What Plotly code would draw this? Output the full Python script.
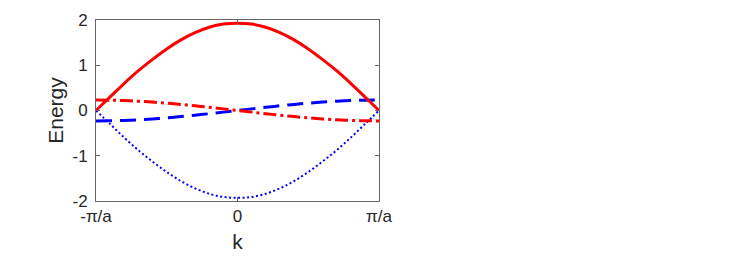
import plotly.graph_objects as go

# k in units of pi/a
k = [-1.0, -0.9, -0.8, -0.7, -0.6, -0.5, -0.4, -0.3, -0.2, -0.1, 0.0,
     0.1, 0.2, 0.3, 0.4, 0.5, 0.6, 0.7, 0.8, 0.9, 1.0]

band_upper = [0.00, 0.30, 0.60, 0.88, 1.13, 1.36, 1.56, 1.72, 1.84, 1.91, 1.93,
              1.91, 1.84, 1.72, 1.56, 1.36, 1.13, 0.88, 0.60, 0.30, 0.00]
band_lower = [-0.00, -0.30, -0.60, -0.88, -1.13, -1.36, -1.56, -1.72, -1.84, -1.91, -1.93,
              -1.91, -1.84, -1.72, -1.56, -1.36, -1.13, -0.88, -0.60, -0.30, -0.00]
band_mid_blue = [-0.23, -0.227, -0.219, -0.205, -0.186, -0.163, -0.135, -0.104, -0.071, -0.036, 0.0,
                 0.036, 0.071, 0.104, 0.135, 0.163, 0.186, 0.205, 0.219, 0.227, 0.23]
band_mid_red = [0.23, 0.227, 0.219, 0.205, 0.186, 0.163, 0.135, 0.104, 0.071, 0.036, 0.0,
                -0.036, -0.071, -0.104, -0.135, -0.163, -0.186, -0.205, -0.219, -0.227, -0.23]

x_tickvals = [-1, 0, 1]
x_ticktext = ["-\u03c0/a", "0", "\u03c0/a"]
y_tickvals = [-2, -1, 0, 1, 2]
y_ticktext = ["-2", "-1", "0", "1", "2"]

font_family = "Liberation Sans, Arial, Helvetica, sans-serif"

fig = go.Figure()
fig.add_trace(go.Scatter(x=k, y=band_lower, mode="lines",
                         line=dict(color="#0000ff", width=2, dash="2px,2.5px", shape="spline")))
fig.add_trace(go.Scatter(x=k, y=band_mid_blue, mode="lines",
                         line=dict(color="#0000ff", width=3, dash="16px,8px", shape="spline")))
fig.add_trace(go.Scatter(x=k, y=band_mid_red, mode="lines",
                         line=dict(color="#ff0000", width=3, dash="13px,4px,3px,4px", shape="spline")))
fig.add_trace(go.Scatter(x=k, y=band_upper, mode="lines",
                         line=dict(color="#ff0000", width=3, shape="spline")))

axis_common = dict(
    showgrid=False, zeroline=False, showline=True, linecolor="#666666", linewidth=1,
    mirror="ticks", ticks="inside", ticklen=4, tickcolor="#666666", tickwidth=1,
    tickfont=dict(family=font_family, size=17, color="#262626"),
    automargin=False,
)

fig.update_layout(
    width=730, height=250,
    margin=dict(l=88, r=359, t=12, b=57),
    paper_bgcolor="white", plot_bgcolor="white",
    showlegend=False,
    font=dict(family=font_family, color="#262626"),
    xaxis=dict(range=[-1, 1], tickvals=x_tickvals, ticktext=x_ticktext,
               title=dict(text="k", font=dict(family=font_family, size=21, color="#262626"), standoff=8),
               **axis_common),
    yaxis=dict(range=[-2, 2], tickvals=y_tickvals, ticktext=y_ticktext, ticklabelstandoff=4,
               title=dict(text="Energy", font=dict(family=font_family, size=21, color="#262626"), standoff=3),
               **axis_common),
)

fig.write_html("out.html")
